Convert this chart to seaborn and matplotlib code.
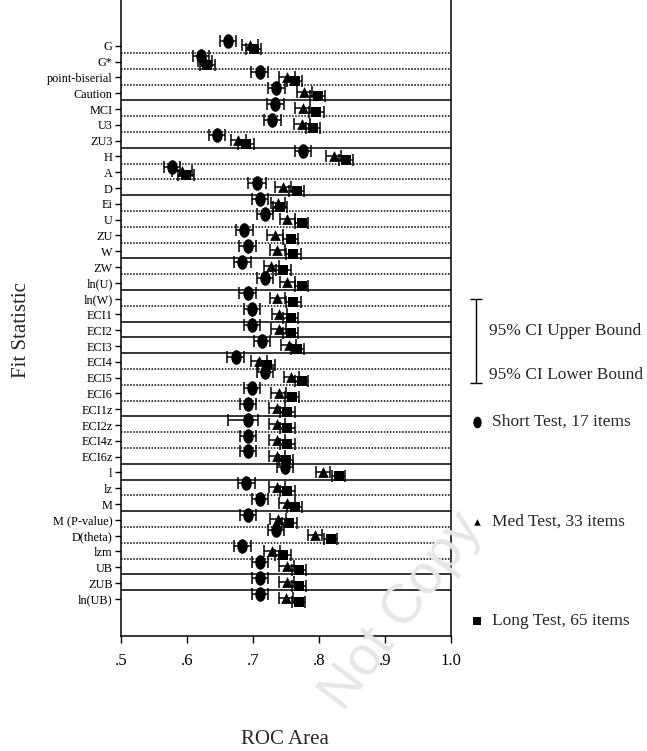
import matplotlib
matplotlib.use('Agg')
import matplotlib.pyplot as plt
from matplotlib.path import Path
from matplotlib.transforms import Affine2D
import numpy as np
import pandas as pd
import seaborn as sns

# fit statistics, top to bottom
stats = ['G', 'G*', 'point-biserial', 'Caution', 'MCI', 'U3', 'ZU3', 'H', 'A', 'D',
         'Ei', 'U', 'ZU', 'W', 'ZW', 'ln(U)', 'ln(W)', 'ECI1', 'ECI2', 'ECI3',
         'ECI4', 'ECI5', 'ECI6', 'ECI1z', 'ECI2z', 'ECI4z', 'ECI6z', 'l', 'lz', 'M',
         'M (P-value)', 'D(theta)', 'lzm', 'UB', 'ZUB', 'ln(UB)']

# ROC area estimates
short_roc = [0.662, 0.621, 0.710, 0.735, 0.734, 0.729, 0.645, 0.776, 0.577, 0.706,
             0.710, 0.718, 0.687, 0.692, 0.684, 0.718, 0.692, 0.699, 0.699, 0.713,
             0.674, 0.718, 0.698, 0.693, 0.693, 0.693, 0.693, 0.749, 0.690, 0.710,
             0.693, 0.735, 0.684, 0.710, 0.710, 0.710]
med_roc = [0.695, 0.627, 0.751, 0.778, 0.775, 0.774, 0.678, 0.822, 0.593, 0.745,
           0.738, 0.752, 0.733, 0.737, 0.728, 0.752, 0.737, 0.740, 0.739, 0.754,
           0.709, 0.758, 0.739, 0.736, 0.736, 0.736, 0.736, 0.806, 0.736, 0.751,
           0.738, 0.794, 0.729, 0.751, 0.751, 0.750]
long_roc = [0.701, 0.631, 0.763, 0.798, 0.796, 0.791, 0.689, 0.841, 0.598, 0.766,
            0.741, 0.774, 0.757, 0.761, 0.746, 0.774, 0.761, 0.757, 0.757, 0.767,
            0.721, 0.774, 0.759, 0.752, 0.752, 0.752, 0.750, 0.830, 0.752, 0.763,
            0.755, 0.818, 0.745, 0.770, 0.770, 0.769]

# 95% CI half widths (lower / upper)
short_lo = [0.012, 0.012, 0.013, 0.013, 0.013, 0.013, 0.012, 0.012, 0.012, 0.013,
            0.012, 0.012, 0.013, 0.013, 0.013, 0.012, 0.013, 0.012, 0.012, 0.012,
            0.013, 0.012, 0.012, 0.012, 0.031, 0.012, 0.012, 0.012, 0.013, 0.012,
            0.012, 0.012, 0.013, 0.012, 0.012, 0.012]
short_hi = [0.012, 0.012, 0.013, 0.013, 0.013, 0.013, 0.012, 0.012, 0.012, 0.013,
            0.012, 0.012, 0.013, 0.013, 0.013, 0.012, 0.013, 0.012, 0.012, 0.012,
            0.013, 0.012, 0.012, 0.012, 0.014, 0.012, 0.012, 0.012, 0.013, 0.012,
            0.012, 0.012, 0.013, 0.012, 0.012, 0.012]
med_err = [0.012, 0.011, 0.012, 0.011, 0.011, 0.012, 0.012, 0.011, 0.015, 0.012,
           0.011, 0.011, 0.012, 0.012, 0.012, 0.011, 0.012, 0.011, 0.011, 0.011,
           0.012, 0.011, 0.011, 0.012, 0.012, 0.012, 0.012, 0.011, 0.012, 0.012,
           0.012, 0.011, 0.012, 0.011, 0.011, 0.011]
long_err = [0.011, 0.012, 0.011, 0.011, 0.011, 0.011, 0.012, 0.010, 0.012, 0.011,
            0.010, 0.010, 0.011, 0.011, 0.011, 0.010, 0.011, 0.011, 0.011, 0.010,
            0.013, 0.010, 0.010, 0.011, 0.011, 0.011, 0.011, 0.010, 0.011, 0.011,
            0.011, 0.010, 0.012, 0.011, 0.011, 0.010]

# style of the separator under each row (except the last)
row_lines = ['dot', 'dot', 'dot', 'solid', 'dot', 'dot', 'solid', 'dot', 'dot', 'solid',
             'dot', 'dot', 'dot', 'solid', 'dot', 'solid', 'dot', 'solid', 'solid', 'solid',
             'dot', 'dot', 'dot', 'solid', 'dot', 'dot', 'solid', 'solid', 'dot', 'solid',
             'dot', 'dot', 'dot', 'solid', 'solid']

x_ticks = [0.5, 0.6, 0.7, 0.8, 0.9, 1.0]
x_ticklabels = ['.5', '.6', '.7', '.8', '.9', '1.0']

tests = ['Short Test, 17 items', 'Med Test, 33 items', 'Long Test, 65 items']

ellipse = Path.unit_circle().transformed(Affine2D().scale(0.72, 1.0))
ellipse = Path(ellipse.vertices, ellipse.codes)

frames = []
for name, roc, lo, hi in [(tests[0], short_roc, short_lo, short_hi),
                          (tests[1], med_roc, med_err, med_err),
                          (tests[2], long_roc, long_err, long_err)]:
    frames.append(pd.DataFrame({'stat': stats, 'test': name, 'roc': roc,
                                'lo': lo, 'hi': hi, 'row': np.arange(len(stats))}))
df = pd.concat(frames, ignore_index=True)

offsets = {tests[0]: -0.33, tests[1]: -0.05, tests[2]: 0.2}
markers = {tests[0]: ellipse, tests[1]: '^', tests[2]: 's'}
sizes = {tests[0]: 110, tests[1]: 60, tests[2]: 62}
df['ypos'] = df['row'] + df['test'].map(offsets)

sns.set_theme(style='white')
plt.rcParams['font.family'] = ['Liberation Serif', 'DejaVu Serif']

W, H = 647, 751
fig = plt.figure(figsize=(W / 100, H / 100), dpi=100)
ax = fig.add_axes([121 / W, 1 - 636 / H, 330 / W, 636 / H])

for i, style in enumerate(row_lines):
    ax.axhline(i + 0.45, color='black', lw=1.1,
               ls='-' if style == 'solid' else (0, (1, 1)), zorder=1)

for t in tests:
    sub = df[df['test'] == t]
    ax.errorbar(sub['roc'], sub['ypos'], xerr=[sub['lo'], sub['hi']], fmt='none',
                ecolor='black', elinewidth=1.1, capsize=4, capthick=1.1, zorder=2)
    sns.scatterplot(data=sub, x='roc', y='ypos', marker=markers[t], s=sizes[t],
                    color='black', edgecolor='black', linewidth=0, ax=ax,
                    legend=False, zorder=3)

ax.set_xlim(0.5, 1.0)
ax.set_ylim(37.35, -2.9)
ax.set_xticks(x_ticks)
ax.set_xticklabels(x_ticklabels)
ax.set_yticks(range(len(stats)))
ax.set_yticklabels(stats)
ax.set_xlabel('')
ax.set_ylabel('')
ax.tick_params(axis='y', direction='out', length=4, width=1, pad=2, labelsize=8.8,
               colors='black', left=True)
ax.tick_params(axis='x', direction='out', length=5, width=1, pad=7, labelsize=12,
               colors='black', bottom=True)
ax.spines['top'].set_visible(False)
for s in ['left', 'right', 'bottom']:
    ax.spines[s].set_color('black')
    ax.spines[s].set_linewidth(1.1)
ax.spines['bottom'].set_linestyle((0, (1, 1)))

fig.text(22 / W, 1 - 330 / H, 'Fit Statistic', rotation=90, ha='center', va='center',
         fontsize=15)
fig.text(285 / W, 1 - 740 / H, 'ROC Area', ha='center', va='center', fontsize=15)

# legend drawn in pixel space
lax = fig.add_axes([0, 0, 1, 1], facecolor='none')
lax.set_xlim(0, W)
lax.set_ylim(H, 0)
lax.axis('off')
lax.errorbar([476], [341], yerr=[[42], [42]], fmt='none', ecolor='black',
             elinewidth=1, capsize=4, capthick=1)
lax.text(489, 331, '95% CI Upper Bound', va='center', fontsize=12.5)
lax.text(489, 375, '95% CI Lower Bound', va='center', fontsize=12.5)
lax.scatter([477], [422], marker=ellipse, s=70, color='black', linewidth=0)
lax.text(492, 422, tests[0], va='center', fontsize=12.5)
lax.scatter([477], [522], marker='^', s=22, color='black', linewidth=0)
lax.text(492, 522, tests[1], va='center', fontsize=12.5)
lax.scatter([477], [621], marker='s', s=26, color='black', linewidth=0)
lax.text(492, 621, tests[2], va='center', fontsize=12.5)

# watermark
lax.text(402, 612, 'Not Copy', rotation=53, ha='center', va='center', fontsize=40,
         family='Liberation Sans', color='#e6e6e6')

fig.savefig('out.png', dpi=100)
